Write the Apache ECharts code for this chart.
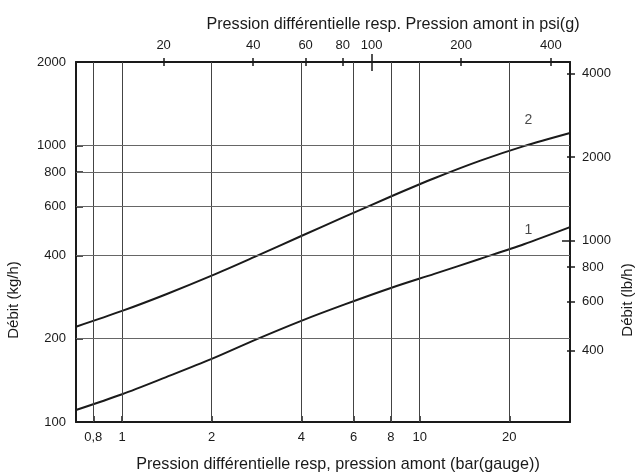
<!DOCTYPE html>
<html>
<head>
<meta charset="utf-8">
<script src="https://cdn.jsdelivr.net/npm/echarts@6/dist/echarts.min.js"></script>
<style>
  html, body { margin: 0; padding: 0; background: #fff; }
  #chart { width: 641px; height: 475px; }
</style>
</head>
<body>
<div id="chart"></div>
<script>
// Flow rate vs. differential / upstream pressure, two valve sizes
const pressureBar = [0.7, 1, 1.4, 2, 2.8, 4, 5.6, 8, 11.2, 16, 22.4, 32];
const flowCurve1 = [110.5, 126, 145, 169, 198, 232, 266, 305, 343, 389, 439, 506];
const flowCurve2 = [221, 252, 289, 338, 396, 470, 552, 653, 760, 880, 993, 1108];

const barTicks = [0.8, 1, 2, 4, 6, 8, 10, 20];
const psiTicks = [20, 40, 60, 80, 100, 200, 400];
const kgTicks = [100, 200, 400, 600, 800, 1000, 2000];
const kgGrid = [200, 400, 600, 800, 1000];
const lbTicks = [400, 600, 800, 1000, 2000, 4000];

const curveLabels = [
  { name: '1', x: 23.2, y: 494 },
  { name: '2', x: 23.2, y: 1234 }
];

const BAR_MIN = 0.7, BAR_MAX = 32;
const KG_MIN = 100, KG_MAX = 2000;
const PSI_PER_BAR = 14.5038;
const LB_PER_KG = 2.20462;

const FONT = 'Liberation Sans, Arial, sans-serif';
const TITLE_FONT = '17px "Liberation Sans", Arial, sans-serif';
const INK = '#1a1a1a';

const plain = v => String(v);

function topAxis(extra) {
  return Object.assign({
    type: 'log', position: 'top', gridIndex: 0,
    min: BAR_MIN * PSI_PER_BAR, max: BAR_MAX * PSI_PER_BAR,
    axisLine: { show: false },
    axisLabel: { show: false },
    splitLine: { show: false }
  }, extra);
}
function rightAxis(extra) {
  return Object.assign({
    type: 'log', position: 'right', gridIndex: 0,
    min: KG_MIN * LB_PER_KG, max: KG_MAX * LB_PER_KG,
    axisLine: { show: false },
    axisLabel: { show: false },
    splitLine: { show: false }
  }, extra);
}

const chart = echarts.init(document.getElementById('chart'), null, { renderer: 'canvas' });

const option = {
  animation: false,
  backgroundColor: '#fff',
  textStyle: { fontFamily: FONT },
  grid: { left: 76, right: 71, top: 62, bottom: 53, containLabel: false },
  xAxis: [
    {
      type: 'log', position: 'bottom', min: BAR_MIN, max: BAR_MAX,
      axisLine: { show: true, onZero: false, lineStyle: { color: INK, width: 2 } },
      axisTick: { show: true, inside: true, length: 6, customValues: barTicks, lineStyle: { color: INK, width: 1.5 } },
      axisLabel: {
        customValues: barTicks, margin: 9, color: INK, fontSize: 13, fontFamily: FONT,
        formatter: v => String(v).replace('.', ',')
      },
      splitLine: { show: false }
    },
    topAxis({
      axisLine: { show: true, onZero: false, lineStyle: { color: INK, width: 2 } },
      axisTick: { show: true, length: 4, customValues: psiTicks, lineStyle: { color: INK, width: 1.5 } },
      axisLabel: { show: true, customValues: psiTicks, margin: 10, color: INK, fontSize: 13, fontFamily: FONT, formatter: plain }
    }),
    topAxis({ axisTick: { show: true, inside: true, length: 4, customValues: psiTicks, lineStyle: { color: INK, width: 1.5 } } }),
    topAxis({ axisTick: { show: true, length: 8, customValues: [100], lineStyle: { color: INK, width: 1.5 } } }),
    topAxis({ axisTick: { show: true, inside: true, length: 9, customValues: [100], lineStyle: { color: INK, width: 1.5 } } })
  ],
  yAxis: [
    {
      type: 'log', position: 'left', min: KG_MIN, max: KG_MAX,
      axisLine: { show: true, onZero: false, lineStyle: { color: INK, width: 2 } },
      axisTick: { show: true, inside: true, length: 7, customValues: kgGrid, lineStyle: { color: INK, width: 1.5 } },
      axisLabel: { customValues: kgTicks, margin: 10, color: INK, fontSize: 13, fontFamily: FONT, formatter: plain },
      splitLine: { show: false }
    },
    rightAxis({
      axisLine: { show: true, onZero: false, lineStyle: { color: INK, width: 2 } },
      axisTick: { show: true, length: 5, customValues: lbTicks, lineStyle: { color: INK, width: 1.5 } },
      axisLabel: { show: true, customValues: lbTicks, margin: 12, color: INK, fontSize: 13, fontFamily: FONT, formatter: plain }
    }),
    rightAxis({ axisTick: { show: true, inside: true, length: 3, customValues: lbTicks, lineStyle: { color: INK, width: 1.5 } } }),
    rightAxis({ axisTick: { show: true, inside: true, length: 8, customValues: [1000], lineStyle: { color: INK, width: 1.5 } } })
  ],
  graphic: [
    {
      type: 'text', x: 393, y: 24, scaleX: 0.95,
      style: { text: 'Pression différentielle resp. Pression amont in psi(g)', font: TITLE_FONT, fill: INK, align: 'center', verticalAlign: 'middle' }
    },
    {
      type: 'text', x: 338, y: 464, scaleX: 0.95,
      style: { text: 'Pression différentielle resp, pression amont (bar(gauge))', font: TITLE_FONT, fill: INK, align: 'center', verticalAlign: 'middle' }
    },
    {
      type: 'text', x: 6, y: 300, rotation: Math.PI / 2,
      style: { text: 'Débit (kg/h)', font: '15px "Liberation Sans", sans-serif', fill: INK, align: 'center', verticalAlign: 'top' }
    },
    {
      type: 'text', x: 620, y: 300, rotation: Math.PI / 2,
      style: { text: 'Débit (lb/h)', font: '15px "Liberation Sans", sans-serif', fill: INK, align: 'center', verticalAlign: 'top' }
    }
  ],
  series: [
    {
      name: 'grid', type: 'line', data: [], xAxisIndex: 0, yAxisIndex: 0, silent: true,
      markLine: {
        silent: true, symbol: 'none', animation: false,
        label: { show: false },
        lineStyle: { color: '#444', width: 1, type: 'solid' },
        data: barTicks.map(v => ({ xAxis: v })).concat(kgGrid.map(v => ({ yAxis: v, lineStyle: { color: '#666' } })))
      }
    },
    {
      name: '1', type: 'line', xAxisIndex: 0, yAxisIndex: 0, smooth: 0.3, symbol: 'none',
      lineStyle: { color: INK, width: 2 },
      data: pressureBar.map((p, i) => [p, flowCurve1[i]])
    },
    {
      name: '2', type: 'line', xAxisIndex: 0, yAxisIndex: 0, smooth: 0.3, symbol: 'none',
      lineStyle: { color: INK, width: 2 },
      data: pressureBar.map((p, i) => [p, flowCurve2[i]])
    },
    {
      name: 'labels', type: 'scatter', xAxisIndex: 0, yAxisIndex: 0, symbolSize: 0, silent: true,
      label: { show: true, position: 'inside', formatter: p => p.data.name, color: INK, fontSize: 14, fontFamily: FONT },
      data: curveLabels.map(d => ({ name: d.name, value: [d.x, d.y] }))
    }
  ]
};

chart.setOption(option);
</script>
</body>
</html>
